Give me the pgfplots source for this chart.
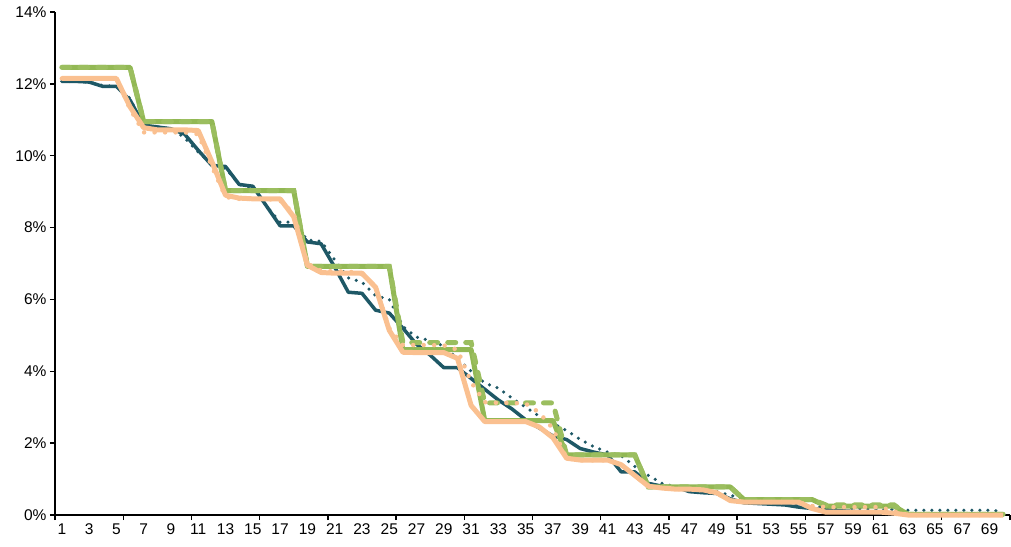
\documentclass[border=0pt]{standalone}
\usepackage{pgfplots}
\pgfplotsset{compat=1.18}
\usepackage{pgfplotstable}
\usepackage{fontspec}
\setmainfont{Liberation Sans}
\definecolor{tealc}{RGB}{30,88,102}
\definecolor{greenc}{RGB}{146,184,84}
\definecolor{greend}{RGB}{155,190,95}
\definecolor{peachc}{RGB}{250,192,144}
\pgfplotstableread{
x A B C D E F
1 12.07 12.07 12.46 12.46 12.15 12.15
2 12.07 12.07 12.46 12.46 12.15 12.15
3 12.05 12.05 12.46 12.46 12.15 12.15
4 11.93 11.95 12.46 12.46 12.15 12.15
5 11.93 11.93 12.46 12.46 12.15 12.15
6 11.55 11.6 12.46 12.46 11.36 11.3
7 10.85 10.8 10.95 10.95 10.78 10.65
8 10.8 10.8 10.95 10.95 10.72 10.65
9 10.75 10.75 10.95 10.95 10.72 10.65
10 10.6 10.5 10.95 10.95 10.72 10.65
11 10.15 10.1 10.95 10.95 10.7 10.6
12 9.73 9.75 10.95 10.95 9.83 9.7
13 9.7 9.65 9.03 9.03 8.9 8.85
14 9.2 9.2 9.03 9.03 8.82 8.8
15 9.15 9.1 9.03 9.03 8.8 8.8
16 8.6 8.6 9.03 9.03 8.8 8.8
17 8.05 8.15 9.03 9.03 8.8 8.75
18 8.05 8.15 9.03 9.03 8.3 8.4
19 7.6 7.65 6.92 6.92 6.95 7.0
20 7.55 7.62 6.92 6.92 6.75 6.8
21 6.9 7.1 6.92 6.92 6.73 6.78
22 6.2 6.6 6.92 6.92 6.73 6.78
23 6.17 6.48 6.92 6.92 6.73 6.7
24 5.7 6.1 6.92 6.92 6.34 6.35
25 5.62 6.0 6.92 6.92 5.14 5.2
26 5.2 5.25 4.6 4.8 4.53 4.73
27 4.75 4.95 4.6 4.8 4.52 4.73
28 4.45 4.85 4.6 4.8 4.52 4.73
29 4.1 4.7 4.6 4.8 4.52 4.72
30 4.1 4.35 4.6 4.8 4.36 4.6
31 3.8 4.0 4.6 4.8 3.05 3.7
32 3.5 3.67 2.63 3.12 2.6 3.14
33 3.2 3.53 2.63 3.12 2.6 3.12
34 2.95 3.25 2.63 3.12 2.6 3.12
35 2.65 3.0 2.63 3.12 2.6 3.1
36 2.42 2.75 2.63 3.12 2.45 2.85
37 2.2 2.55 2.63 3.12 2.15 2.4
38 2.1 2.35 1.67 1.67 1.58 1.58
39 1.85 2.1 1.67 1.67 1.53 1.52
40 1.75 1.9 1.67 1.67 1.53 1.52
41 1.67 1.75 1.67 1.67 1.53 1.52
42 1.2 1.65 1.67 1.67 1.4 1.4
43 1.2 1.35 1.67 1.67 1.1 1.1
44 0.88 1.1 0.78 0.78 0.8 0.8
45 0.8 0.88 0.78 0.78 0.75 0.75
46 0.78 0.78 0.78 0.78 0.72 0.72
47 0.65 0.75 0.78 0.78 0.72 0.72
48 0.62 0.7 0.78 0.78 0.7 0.68
49 0.6 0.65 0.78 0.78 0.62 0.6
50 0.45 0.55 0.78 0.78 0.4 0.4
51 0.34 0.45 0.43 0.43 0.36 0.36
52 0.32 0.38 0.43 0.43 0.36 0.36
53 0.3 0.35 0.43 0.43 0.36 0.36
54 0.28 0.32 0.43 0.43 0.36 0.36
55 0.22 0.3 0.43 0.43 0.36 0.36
56 0.18 0.25 0.43 0.43 0.18 0.25
57 0.14 0.22 0.25 0.28 0.08 0.22
58 0.12 0.2 0.25 0.28 0.08 0.22
59 0.1 0.18 0.25 0.28 0.08 0.22
60 0.08 0.17 0.25 0.28 0.08 0.22
61 0.06 0.16 0.25 0.28 0.08 0.22
62 0.04 0.15 0.25 0.28 0.05 0.1
63 0.02 0.13 0.02 0.02 0 0
64 0.02 0.13 0.02 0.02 0 0
65 0.02 0.13 0.02 0.02 0 0
66 0.02 0.13 0.02 0.02 0 0
67 0.02 0.13 0.02 0.02 0 0
68 0.02 0.13 0.02 0.02 0 0
69 0.02 0.13 0.02 0.02 0 0
70 0.02 0.1 0.02 0.02 0 0
}\data
\begin{document}
\begin{tikzpicture}
\path[use as bounding box] (-55bp,-32bp) rectangle (956bp,515bp);
\begin{axis}[
  at={(0,0)}, anchor=south west,
  scale only axis, width=955bp, height=503bp,
  xmin=0.5, xmax=70.5, ymin=0, ymax=14,
  axis x line=bottom, axis y line=left,
  axis line style={-, line width=1.5bp, black},
  clip=false,
  xtick={1,3,...,69},
  minor xtick={0.5,5.5,...,70.5},
  ytick={0,2,...,14},
  minor ytick={0,2,...,14},
  major tick length=0bp, minor tick length=5bp,
  tick align=outside,
  minor tick style={black, line width=1.3bp},
  yticklabel={\pgfmathprintnumber{\tick}\%},
  /pgf/number format/assume math mode=true,
  tick label style={font=\fontsize{15.5bp}{18bp}\selectfont, text=black},
  yticklabel style={xshift=-5bp},
  xticklabel style={yshift=-5bp},
  every axis plot/.append style={mark=none},
]
\addplot[tealc, line width=3.5bp, line join=round] table[x=x,y=A]{\data};
\addplot[tealc, line width=3.5bp, line cap=round, dash pattern=on 0bp off 8bp] table[x=x,y=B]{\data};
\addplot[greenc, line width=5bp, line join=round] table[x=x,y=C]{\data};
\addplot[greend, line width=5bp, line cap=round, dash pattern=on 8bp off 10bp] table[x=x,y=D]{\data};
\addplot[peachc, line width=5bp, line join=round] table[x=x,y=E]{\data};
\addplot[peachc, line width=4.5bp, line cap=round, dash pattern=on 0bp off 10.5bp] table[x=x,y=F]{\data};
\end{axis}
\end{tikzpicture}
\end{document}
